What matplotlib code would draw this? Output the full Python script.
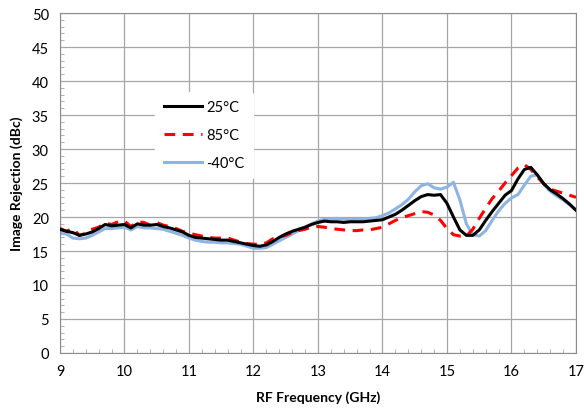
import matplotlib
matplotlib.use("Agg")
from matplotlib import pyplot as plt
from matplotlib.ticker import MultipleLocator

freq = [9.0, 9.1, 9.2, 9.3, 9.4, 9.5, 9.6, 9.7, 9.8, 9.9,
        10.0, 10.1, 10.2, 10.3, 10.4, 10.5, 10.6, 10.7, 10.8, 10.9,
        11.0, 11.1, 11.2, 11.3, 11.4, 11.5, 11.6, 11.7, 11.8, 11.9,
        12.0, 12.1, 12.2, 12.3, 12.4, 12.5, 12.6, 12.7, 12.8, 12.9,
        13.0, 13.1, 13.2, 13.3, 13.4, 13.5, 13.6, 13.7, 13.8, 13.9,
        14.0, 14.1, 14.2, 14.3, 14.4, 14.5, 14.6, 14.7, 14.8, 14.9,
        15.0, 15.1, 15.2, 15.3, 15.4, 15.5, 15.6, 15.7, 15.8, 15.9,
        16.0, 16.1, 16.2, 16.3, 16.4, 16.5, 16.6, 16.7, 16.8, 16.9,
        17.0]

ir_25c = [18.2, 17.9, 17.7, 17.3, 17.5, 17.8, 18.3, 18.9, 18.7, 18.8,
          18.9, 18.4, 19.0, 18.8, 18.8, 18.9, 18.6, 18.4, 18.1, 17.8,
          17.3, 17.0, 16.9, 16.8, 16.7, 16.6, 16.6, 16.4, 16.2, 16.0,
          15.8, 15.7, 15.9, 16.4, 17.0, 17.5, 17.9, 18.2, 18.5, 18.9,
          19.2, 19.4, 19.3, 19.3, 19.2, 19.3, 19.3, 19.3, 19.4, 19.5,
          19.6, 20.0, 20.4, 21.0, 21.7, 22.4, 23.0, 23.3, 23.2, 23.3,
          22.0, 20.0, 18.1, 17.3, 17.3, 18.1, 19.5, 20.8, 22.0, 23.2,
          23.9, 25.6, 27.0, 27.3, 26.2, 24.9, 24.0, 23.4, 22.7, 21.9,
          21.0]

ir_85c = [18.3, 17.9, 18.3, 17.3, 17.6, 18.2, 18.5, 19.1, 18.9, 19.3,
          19.4, 18.6, 19.3, 19.2, 18.8, 19.2, 18.8, 18.6, 18.3, 17.9,
          17.6, 17.4, 17.2, 17.0, 16.9, 16.9, 16.9, 16.6, 16.3, 16.1,
          16.0, 16.0, 16.2, 16.8, 17.1, 17.3, 17.7, 18.0, 18.2, 18.5,
          18.6, 18.5, 18.3, 18.2, 18.1, 18.0, 18.0, 18.1, 18.1, 18.3,
          18.5, 19.0, 19.5, 19.9, 20.2, 20.5, 20.8, 20.7, 20.3, 19.5,
          18.3, 17.4, 17.2, 17.2, 18.2, 19.8, 21.3, 22.7, 23.8, 25.0,
          26.1, 27.2, 27.7, 27.0, 25.9, 24.9, 24.1, 23.8, 23.5, 23.2,
          22.9]

ir_m40c = [17.6, 17.5, 16.9, 16.8, 16.9, 17.3, 17.8, 18.3, 18.3, 18.4,
           18.5, 18.1, 18.6, 18.4, 18.4, 18.3, 18.2, 17.9, 17.6, 17.3,
           16.9, 16.6, 16.4, 16.3, 16.3, 16.2, 16.2, 16.1, 16.0, 15.7,
           15.4, 15.4, 15.5, 16.0, 16.5, 17.0, 17.5, 18.0, 18.5, 19.0,
           19.4, 19.7, 19.7, 19.8, 19.7, 19.6, 19.7, 19.7, 19.8, 19.9,
           20.2, 20.6, 21.2, 21.8, 22.6, 23.7, 24.6, 24.9, 24.3, 24.1,
           24.4, 25.1, 22.5, 19.0, 17.4, 17.2, 18.0, 19.5, 20.9, 22.0,
           22.8, 23.3, 24.7, 26.0, 26.2, 24.8, 23.8, 23.1, 22.5, 21.8,
           21.0]

plt.rcParams["font.family"] = ["Lato", "DejaVu Sans"]

fig = plt.figure(figsize=(5.84, 4.14), dpi=100)
ax = fig.add_axes([0.1027, 0.145, 0.8836, 0.821])

ax.plot(freq, ir_25c, color="black", lw=2.2, label="25°C", zorder=4)
ax.plot(freq, ir_85c, color="#ff0000", lw=2.2, ls=(0, (3.5, 2.5)), label="85°C", zorder=3)
ax.plot(freq, ir_m40c, color="#8db4e2", lw=2.2, label="-40°C", zorder=2)

ax.set_xlim(9, 17)
ax.set_ylim(0, 50)
ax.xaxis.set_major_locator(MultipleLocator(1))
ax.xaxis.set_minor_locator(MultipleLocator(0.2))
ax.yaxis.set_major_locator(MultipleLocator(5))
ax.yaxis.set_minor_locator(MultipleLocator(1))
ax.grid(True, which="major", color="#a6a6a6", lw=0.9)
ax.tick_params(which="major", length=0, labelsize=10.5, pad=8)
ax.tick_params(which="minor", direction="in", length=3, color="#a6a6a6")
for s in ax.spines.values():
    s.set_color("#8c8c8c")

ax.set_xlabel("RF Frequency (GHz)", fontsize=10, fontweight="bold", labelpad=9)
ax.set_ylabel("Image Rejection (dBc)", fontsize=10, fontweight="bold", labelpad=6)

leg = ax.legend(loc="upper left", bbox_to_anchor=(0.17, 0.79), frameon=True,
                fontsize=10.5, handlelength=2.6, labelspacing=0.95,
                handletextpad=0.3, borderpad=0.6)
leg.get_frame().set_edgecolor("white")
leg.get_frame().set_facecolor("white")
leg.get_frame().set_alpha(1)

fig.savefig("out.png", dpi=100)
